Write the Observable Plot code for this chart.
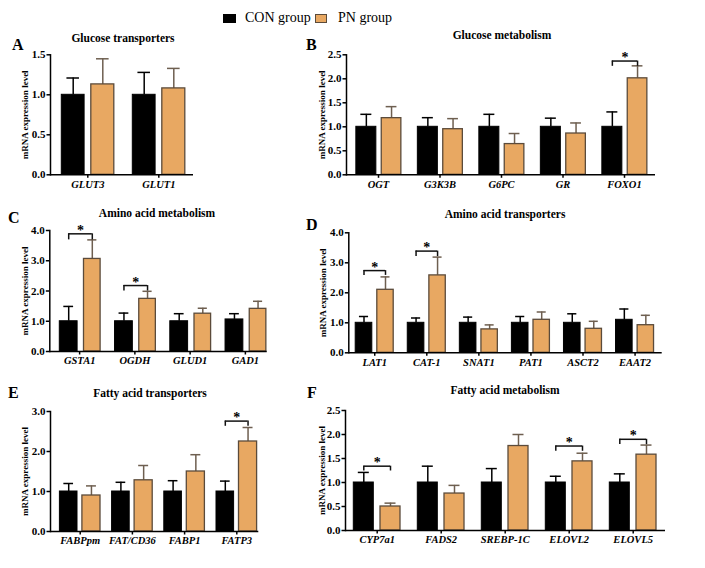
<!DOCTYPE html>
<html><head><meta charset="utf-8">
<script src="https://cdn.jsdelivr.net/npm/d3@7"></script>
<script src="https://cdn.jsdelivr.net/npm/@observablehq/plot@0.6"></script>
<style>
body{margin:0;background:#fff;}
#root{position:relative;width:705px;height:568px;overflow:hidden;font-family:"Liberation Serif","Times New Roman",serif;color:#000;}
.panel{position:absolute;}
.title{position:absolute;font-weight:bold;font-size:11.5px;transform:translate(-50%,-50%);white-space:nowrap;}
.letter{position:absolute;font-weight:bold;font-size:16px;line-height:16px;transform:translateY(-50%);}
.legend{position:absolute;left:0;top:0;width:705px;height:30px;font-size:14px;}
.sw{position:absolute;width:13px;height:9px;box-sizing:border-box;}
.lt{position:absolute;top:11px;line-height:14px;white-space:nowrap;}
</style></head><body><div id="root"></div>
<script>
// ---- data ----
const groups = ["CON group", "PN group"];
const yLabel = "mRNA expression level";

const genesA = ["GLUT3", "GLUT1"];
const conA = [1.0, 1.0];
const conErrA = [0.21, 0.28];
const pnA = [1.13, 1.08];
const pnErrA = [0.32, 0.25];
const sigA = [];
const sigTopA = [];
const sigLegA = [];
const ticksA = [0, 0.5, 1.0, 1.5];

const genesB = ["OGT", "G3K3B", "G6PC", "GR", "FOXO1"];
const conB = [1.0, 1.0, 1.0, 1.0, 1.0];
const conErrB = [0.26, 0.19, 0.26, 0.18, 0.31];
const pnB = [1.18, 0.95, 0.64, 0.86, 2.01];
const pnErrB = [0.24, 0.22, 0.22, 0.22, 0.26];
const sigB = ["FOXO1"];
const sigTopB = [2.37];
const sigLegB = [2.26];
const ticksB = [0, 0.5, 1.0, 1.5, 2.0, 2.5];

const genesC = ["GSTA1", "OGDH", "GLUD1", "GAD1"];
const conC = [1.0, 1.0, 1.0, 1.06];
const conErrC = [0.49, 0.27, 0.25, 0.19];
const pnC = [3.06, 1.74, 1.25, 1.41];
const pnErrC = [0.63, 0.25, 0.18, 0.25];
const sigC = ["GSTA1", "OGDH"];
const sigTopC = [3.89, 2.18];
const sigLegC = [3.69, 2.0];
const ticksC = [0, 1.0, 2.0, 3.0, 4.0];

const genesD = ["LAT1", "CAT-1", "SNAT1", "PAT1", "ASCT2", "EAAT2"];
const conD = [1.0, 1.0, 1.0, 1.0, 1.0, 1.1];
const conErrD = [0.21, 0.16, 0.19, 0.21, 0.3, 0.36];
const pnD = [2.1, 2.58, 0.78, 1.1, 0.8, 0.92];
const pnErrD = [0.43, 0.61, 0.15, 0.26, 0.25, 0.33];
const sigD = ["LAT1", "CAT-1"];
const sigTopD = [2.74, 3.39];
const sigLegD = [2.58, 3.21];
const ticksD = [0, 1.0, 2.0, 3.0, 4.0];

const genesE = ["FABPpm", "FAT/CD36", "FABP1", "FATP3"];
const conE = [1.0, 1.0, 1.0, 1.0];
const conErrE = [0.2, 0.23, 0.27, 0.26];
const pnE = [0.9, 1.28, 1.5, 2.25];
const pnErrE = [0.24, 0.37, 0.42, 0.35];
const sigE = ["FATP3"];
const sigTopE = [2.76];
const sigLegE = [2.63];
const ticksE = [0, 1.0, 2.0, 3.0];

const genesF = ["CYP7a1", "FADS2", "SREBP-1C", "ELOVL2", "ELOVL5"];
const conF = [1.0, 1.0, 1.0, 1.0, 1.0];
const conErrF = [0.21, 0.34, 0.29, 0.13, 0.18];
const pnF = [0.5, 0.77, 1.76, 1.44, 1.58];
const pnErrF = [0.07, 0.17, 0.24, 0.17, 0.2];
const sigF = ["CYP7a1", "ELOVL2", "ELOVL5"];
const sigTopF = [1.34, 1.76, 1.9];
const sigLegF = [1.24, 1.65, 1.79];
const ticksF = [0, 0.5, 1.0, 1.5, 2.0, 2.5];

const titles = ["Glucose transporters", "Glucose metabolism", "Amino acid metabolism", "Amino acid transporters", "Fatty acid transporters", "Fatty acid metabolism"];
const letters = ["A", "B", "C", "D", "E", "F"];

// ---- styles / layout ----
const ORANGE = "#E8A862", OUTLINE = "#5b4b3b", ERR = "#6e5f50";

const panels = [
  {d: {genes: genesA, con: conA, conErr: conErrA, pn: pnA, pnErr: pnErrA, sig: sigA, sigTop: sigTopA, sigLeg: sigLegA, ticks: ticksA},
   L: {left: 0, top: 40, w: 300, h: 160, axisL: 50, axisR: 193, yTop: 54.3, y0: 174.3, band: [51.8, 193.8], con: [9.5, 32.3], pn: [39, 62], ylab: 25},
   t: [123, 38], l: [12, 45]},
  {d: {genes: genesB, con: conB, conErr: conErrB, pn: pnB, pnErr: pnErrB, sig: sigB, sigTop: sigTopB, sigLeg: sigLegB, ticks: ticksB},
   L: {left: 300, top: 40, w: 405, h: 160, axisL: 346, axisR: 655, yTop: 54.3, y0: 174.3, band: [347.25, 654.75], con: [8.6, 28.6], pn: [34, 53.6], ylab: 24},
   t: [502, 35], l: [306, 45]},
  {d: {genes: genesC, con: conC, conErr: conErrC, pn: pnC, pnErr: pnErrC, sig: sigC, sigTop: sigTopC, sigLeg: sigLegC, ticks: ticksC},
   L: {left: 0, top: 215, w: 300, h: 160, axisL: 49.3, axisR: 266.7, yTop: 230, y0: 351, band: [51.5, 272.5], con: [7.8, 25.6], pn: [32, 48.6], ylab: 25},
   t: [157, 213], l: [8, 218]},
  {d: {genes: genesD, con: conD, conErr: conErrD, pn: pnD, pnErr: pnErrD, sig: sigD, sigTop: sigTopD, sigLeg: sigLegD, ticks: ticksD},
   L: {left: 300, top: 215, w: 405, h: 160, axisL: 348.3, axisR: 661.7, yTop: 232.3, y0: 352.3, band: [348.2, 660.6], con: [7, 23.6], pn: [28.6, 45], ylab: 26},
   t: [505, 214], l: [306, 225]},
  {d: {genes: genesE, con: conE, conErr: conErrE, pn: pnE, pnErr: pnErrE, sig: sigE, sigTop: sigTopE, sigLeg: sigLegE, ticks: ticksE},
   L: {left: 0, top: 395, w: 300, h: 160, axisL: 50, axisR: 258.3, yTop: 411, y0: 531, band: [53.6, 262.4], con: [5.8, 23.4], pn: [28.3, 46.4], ylab: 25},
   t: [150, 393], l: [8, 393]},
  {d: {genes: genesF, con: conF, conErr: conErrF, pn: pnF, pnErr: pnErrF, sig: sigF, sigTop: sigTopF, sigLeg: sigLegF, ticks: ticksF},
   L: {left: 300, top: 395, w: 405, h: 160, axisL: 345, axisR: 665, yTop: 410, y0: 530, band: [344.7, 664.7], con: [8.6, 28.6], pn: [35.3, 55.3], ylab: 23},
   t: [505, 390], l: [307, 393]}
];

function makePanel(d, L) {
  const n = d.genes.length;
  const bw = (L.band[1] - L.band[0]) / n;
  const mid = bw / 2;
  const rows = d.genes.map((g, i) => ({gene: g, con: d.con[i], conHi: d.con[i] + d.conErr[i], pn: d.pn[i], pnHi: d.pn[i] + d.pnErr[i]}));
  const sig = d.sig.map((g, i) => ({gene: g, top: d.sigTop[i], leg: d.sigLeg[i]}));
  const [c0, c1] = L.con, [p0, p1] = L.pn;
  const cc = (c0 + c1) / 2, pc = (p0 + p1) / 2;
  const capC = (c1 - c0) * 0.55, capP = (p1 - p0) * 0.55;
  return Plot.plot({
    width: L.w, height: L.h,
    marginLeft: L.axisL - L.left, marginRight: L.left + L.w - L.axisR,
    marginTop: L.yTop - L.top, marginBottom: L.top + L.h - L.y0,
    style: {fontFamily: "'Liberation Serif', 'Times New Roman', serif", fontWeight: "bold", fontSize: "11px", background: "transparent", overflow: "visible", color: "#000"},
    x: {type: "band", domain: d.genes, range: [L.band[0] - L.left, L.band[1] - L.left], padding: 0, round: false},
    y: {domain: [0, d.ticks[d.ticks.length - 1]]},
    marks: [
      Plot.ruleX(rows, {x: "gene", y1: "con", y2: "conHi", dx: cc - mid, stroke: "#000", strokeWidth: 1.5}),
      Plot.tickY(rows, {x: "gene", y: "conHi", insetLeft: cc - capC / 2, insetRight: bw - cc - capC / 2, stroke: "#000", strokeWidth: 1.5}),
      Plot.ruleX(rows, {x: "gene", y1: "pn", y2: "pnHi", dx: pc - mid, stroke: ERR, strokeWidth: 1.5}),
      Plot.tickY(rows, {x: "gene", y: "pnHi", insetLeft: pc - capP / 2, insetRight: bw - pc - capP / 2, stroke: ERR, strokeWidth: 1.5}),
      Plot.barY(rows, {x: "gene", y: "con", insetLeft: c0, insetRight: bw - c1, fill: "#000", stroke: "#000", strokeWidth: 1}),
      Plot.barY(rows, {x: "gene", y: "pn", insetLeft: p0, insetRight: bw - p1, fill: ORANGE, stroke: OUTLINE, strokeWidth: 1.3}),
      Plot.tickY(sig, {x: "gene", y: "top", insetLeft: cc, insetRight: bw - pc, stroke: "#111", strokeWidth: 1.5}),
      Plot.ruleX(sig, {x: "gene", y1: "leg", y2: "top", dx: cc - mid, stroke: "#111", strokeWidth: 1.5}),
      Plot.ruleX(sig, {x: "gene", y1: "leg", y2: "top", dx: pc - mid, stroke: "#111", strokeWidth: 1.5}),
      Plot.text(sig, {x: "gene", y: "top", text: () => "*", dx: (cc + pc) / 2 - mid, dy: 1, lineAnchor: "bottom", fontSize: 14}),
      Plot.ruleY([0], {stroke: "#000", strokeWidth: 1.5}),
      Plot.frame({anchor: "left", stroke: "#000", strokeWidth: 1.5}),
      Plot.axisY({ticks: d.ticks, tickFormat: d3.format(".1f"), tickSize: 3.5, tickPadding: 1.5, fontSize: 11, label: null, strokeWidth: 1.5}),
      Plot.axisX({tickSize: 3.5, tickPadding: 2, fontSize: 10.5, fontStyle: "italic", label: null, strokeWidth: 1.5}),
      Plot.text([yLabel], {frameAnchor: "left", rotate: -90, dx: -L.ylab, text: (t) => t, fontSize: 9, lineAnchor: "middle", textAnchor: "middle"})
    ]
  });
}

const root = document.getElementById("root");

// legend
const leg = document.createElement("div");
leg.className = "legend";
leg.innerHTML =
  `<div class="sw" style="left:223px;top:14px;background:#000;border:1px solid #000"></div>` +
  `<div class="lt" style="left:245px">${groups[0]}</div>` +
  `<div class="sw" style="left:315px;top:14px;width:12px;background:${ORANGE};border:1px solid ${OUTLINE}"></div>` +
  `<div class="lt" style="left:338px">${groups[1]}</div>`;
root.appendChild(leg);

panels.forEach((p, i) => {
  const svg = makePanel(p.d, p.L);
  svg.classList.add("panel");
  svg.style.left = p.L.left + "px";
  svg.style.top = p.L.top + "px";
  root.appendChild(svg);
  const t = document.createElement("div");
  t.className = "title";
  t.style.left = p.t[0] + "px";
  t.style.top = p.t[1] + "px";
  t.textContent = titles[i];
  root.appendChild(t);
  const l = document.createElement("div");
  l.className = "letter";
  l.style.left = p.l[0] + "px";
  l.style.top = p.l[1] + "px";
  l.textContent = letters[i];
  root.appendChild(l);
});
</script>
</body></html>
